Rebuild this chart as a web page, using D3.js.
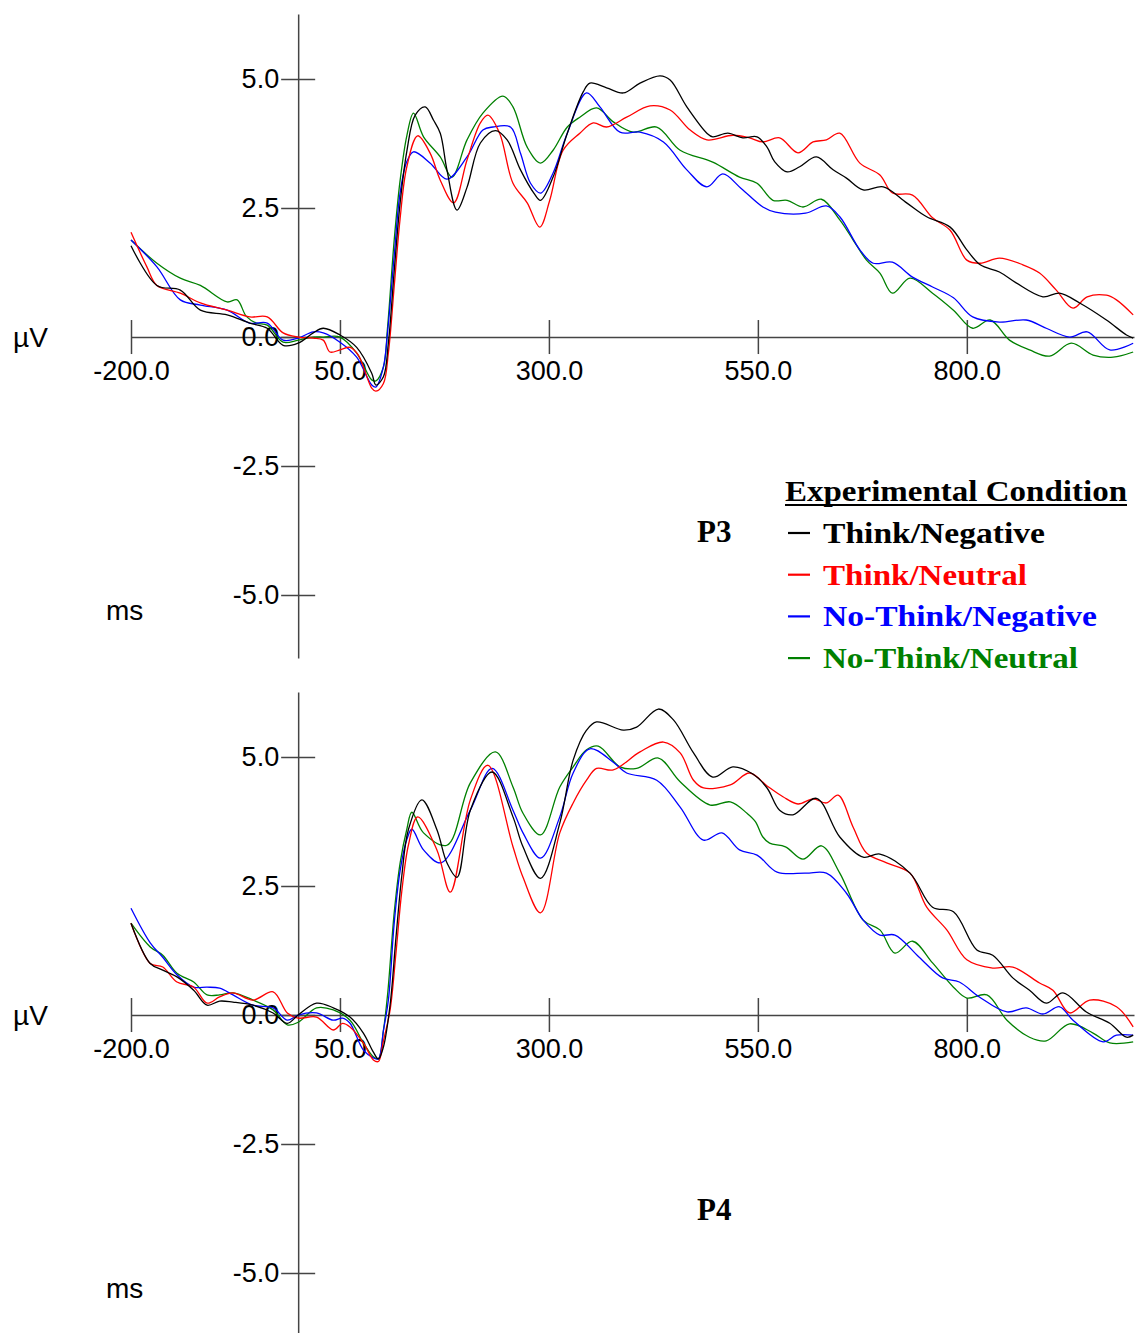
<!DOCTYPE html>
<html>
<head>
<meta charset="utf-8">
<script src="https://cdn.jsdelivr.net/npm/d3@7"></script>
<style>
  body { margin: 0; background: #fff; }
  svg { display: block; }
  .axis path, .axis line { stroke: #444; stroke-width: 1.5; }
  .axis text { font-family: "Liberation Sans", Arial, sans-serif; font-size: 27px; fill: #000; }
  .unit { font-family: "Liberation Sans", Arial, sans-serif; font-size: 28px; fill: #000; }
  .serif { font-family: "Liberation Serif", "Times New Roman", serif; font-weight: bold; }
</style>
</head>
<body>
<div id="chart"></div>
<script>
// ERP waveforms, [ms, µV]
const conditions = ['Think/Negative', 'Think/Neutral', 'No-Think/Negative', 'No-Think/Neutral'];
const colors = ['#000000', '#ff0000', '#0000ff', '#008000'];
const xTicks = [-200, 50, 300, 550, 800];
const yTicks = [-5, -2.5, 0, 2.5, 5];

const p3ThinkNeg = [[-200,1.77],[-169,1.0],[-141,0.91],[-117,0.52],[-85,0.43],[-58,0.27],[-37,0.17],[-18,-0.16],[0,-0.12],[18,0.08],[30,0.17],[50,0.04],[70,-0.2],[88,-0.7],[93,-0.93],[102,-0.77],[108,-0.1],[115,1.3],[122,2.6],[130,3.6],[140,4.3],[152,4.46],[162,4.2],[170,3.95],[178,3.24],[190,2.46],[202,2.9],[218,3.76],[236,4.0],[250,3.82],[266,3.24],[282,2.79],[290,2.65],[305,3.1],[322,3.95],[341,4.75],[349,4.92],[369,4.83],[389,4.73],[409,4.92],[433,5.06],[445,4.98],[465,4.46],[489,3.95],[496,3.88],[514,3.95],[532,3.86],[549,3.88],[561,3.68],[570,3.4],[585,3.2],[600,3.3],[620,3.49],[640,3.24],[656,3.08],[676,2.85],[700,2.91],[728,2.6],[752,2.33],[780,2.13],[800,1.69],[816,1.4],[839,1.26],[859,1.05],[891,0.78],[911,0.85],[935,0.66],[967,0.33],[991,0.04],[999,-0.02]];
const p3ThinkNeu = [[-200,2.03],[-181,1.36],[-169,1.0],[-141,0.85],[-117,0.66],[-85,0.52],[-58,0.39],[-37,0.39],[-18,0.08],[0,0],[18,-0.02],[30,-0.06],[38,-0.29],[50,-0.25],[62,-0.2],[72,-0.35],[88,-0.99],[93,-1.05],[102,-0.9],[108,-0.3],[115,1.0],[122,2.3],[130,3.3],[143,3.9],[158,3.56],[170,3.04],[186,2.6],[202,3.43],[218,4.15],[227,4.3],[241,3.95],[257,2.98],[274,2.6],[289,2.13],[301,2.65],[317,3.62],[337,3.95],[353,4.15],[369,4.07],[393,4.26],[421,4.48],[445,4.4],[469,4.01],[489,3.82],[520,3.91],[540,3.86],[556,3.78],[576,3.86],[598,3.57],[616,3.78],[632,3.82],[648,3.95],[672,3.37],[696,3.14],[711,2.79],[735,2.75],[759,2.31],[780,2.07],[800,1.49],[816,1.43],[839,1.53],[867,1.4],[887,1.24],[907,0.91],[927,0.56],[944,0.78],[967,0.81],[979,0.72],[999,0.43]];
const p3NoThinkNeg = [[-200,1.88],[-169,1.36],[-141,0.72],[-117,0.62],[-85,0.52],[-58,0.27],[-37,0.27],[-18,-0.06],[0,-0.02],[18,0.1],[30,0.08],[50,-0.1],[70,-0.39],[88,-0.93],[93,-0.97],[102,-0.58],[107,0.1],[115,1.6],[122,2.8],[130,3.4],[138,3.59],[158,3.37],[178,3.06],[202,3.49],[221,4.01],[233,4.07],[254,4.07],[266,3.56],[278,2.98],[290,2.79],[305,3.18],[322,3.95],[345,4.73],[361,4.46],[385,3.97],[409,3.97],[437,3.78],[465,3.24],[489,2.91],[508,3.16],[530,2.88],[556,2.52],[571,2.42],[607,2.4],[632,2.54],[648,2.33],[672,1.69],[688,1.43],[711,1.45],[735,1.16],[759,0.97],[784,0.76],[807,0.39],[839,0.29],[871,0.33],[895,0.17],[923,0],[944,0.1],[971,-0.25],[999,-0.12]];
const p3NoThinkNeu = [[-200,1.88],[-169,1.43],[-141,1.14],[-117,1.0],[-85,0.68],[-73,0.72],[-62,0.4],[-50,0.27],[-37,0.23],[-18,-0.1],[0,-0.06],[18,0],[30,0],[50,0],[70,-0.31],[88,-0.83],[93,-0.85],[102,-0.58],[107,0.2],[115,1.9],[122,3.04],[130,3.9],[138,4.34],[150,3.88],[170,3.49],[184,3.1],[202,3.82],[221,4.34],[245,4.67],[257,4.46],[274,3.68],[290,3.37],[305,3.62],[322,4.07],[337,4.26],[357,4.44],[377,4.17],[401,3.97],[429,4.07],[457,3.62],[496,3.39],[528,3.1],[549,2.98],[568,2.65],[585,2.65],[604,2.52],[626,2.67],[648,2.27],[664,1.88],[680,1.49],[696,1.24],[711,0.85],[732,1.14],[759,0.85],[784,0.52],[807,0.17],[828,0.33],[851,-0.06],[875,-0.25],[899,-0.37],[925,-0.12],[951,-0.35],[975,-0.39],[999,-0.29]];

const p4ThinkNeg = [[-200,1.78],[-177,1.0],[-162,0.87],[-145,0.74],[-125,0.48],[-109,0.19],[-94,0.27],[-78,0.25],[-54,0.19],[-30,0.04],[-13,-0.16],[0,0],[22,0.23],[42,0.14],[62,-0.04],[78,-0.35],[90,-0.72],[96,-0.85],[102,-0.62],[110,0.2],[117,1.5],[124,2.7],[132,3.6],[148,4.17],[166,3.59],[178,2.95],[190,2.67],[206,3.97],[232,4.71],[257,3.84],[269,3.26],[290,2.65],[313,3.72],[329,4.94],[345,5.52],[357,5.68],[389,5.52],[405,5.58],[431,5.93],[449,5.72],[473,5.08],[496,4.61],[520,4.81],[544,4.67],[561,4.4],[576,3.97],[592,3.88],[620,4.2],[648,3.45],[676,3.06],[696,3.12],[732,2.75],[759,2.09],[784,2.0],[812,1.26],[831,1.16],[855,0.72],[875,0.48],[895,0.23],[915,0.43],[943,0.06],[971,-0.16],[991,-0.43],[999,-0.39]];
const p4ThinkNeu = [[-200,1.78],[-177,1.0],[-162,0.93],[-145,0.64],[-125,0.54],[-109,0.23],[-94,0.35],[-78,0.43],[-54,0.29],[-30,0.45],[-13,0.04],[0,-0.06],[22,-0.04],[42,-0.29],[53,-0.16],[62,-0.23],[78,-0.54],[90,-0.87],[96,-0.9],[102,-0.5],[110,0.1],[117,1.2],[124,2.4],[132,3.3],[143,3.84],[166,3.2],[182,2.38],[206,4.17],[227,4.84],[257,3.26],[269,2.67],[290,1.98],[313,3.53],[329,4.11],[345,4.55],[357,4.78],[377,4.75],[409,5.1],[437,5.29],[457,5.08],[473,4.55],[485,4.4],[517,4.46],[540,4.69],[561,4.44],[580,4.23],[598,4.09],[616,4.19],[632,4.11],[646,4.26],[664,3.64],[680,3.14],[704,2.95],[732,2.75],[752,2.09],[776,1.65],[800,1.07],[831,0.91],[855,0.93],[887,0.62],[903,0.48],[923,0.04],[947,0.29],[979,0.16],[999,-0.23]];
const p4NoThinkNeg = [[-200,2.07],[-177,1.4],[-162,1.12],[-145,0.78],[-125,0.54],[-109,0.54],[-94,0.52],[-78,0.39],[-54,0.19],[-30,0.14],[-13,-0.1],[0,0],[22,0.04],[42,-0.1],[53,-0.06],[62,-0.16],[78,-0.68],[90,-0.83],[96,-0.85],[102,-0.3],[108,0.3],[115,1.8],[122,2.8],[130,3.4],[136,3.6],[150,3.2],[171,2.95],[206,3.97],[232,4.78],[257,3.97],[269,3.53],[290,3.04],[313,3.84],[329,4.69],[349,5.16],[377,4.9],[393,4.69],[429,4.55],[457,4.03],[485,3.39],[507,3.53],[528,3.2],[549,3.1],[573,2.77],[607,2.75],[632,2.75],[656,2.36],[676,1.84],[696,1.55],[714,1.55],[743,1.12],[771,0.72],[791,0.64],[815,0.35],[848,0.06],[871,0.14],[891,0.02],[911,0.16],[927,-0.1],[963,-0.52],[979,-0.39],[999,-0.39]];
const p4NoThinkNeu = [[-200,1.78],[-177,1.32],[-162,1.16],[-145,0.81],[-125,0.64],[-109,0.39],[-94,0.39],[-78,0.43],[-54,0.29],[-30,0.1],[-13,-0.19],[0,-0.14],[22,0.14],[42,0.1],[62,-0.1],[78,-0.54],[90,-0.81],[96,-0.85],[102,-0.3],[107,0.4],[115,2.0],[122,2.95],[130,3.6],[136,3.93],[150,3.53],[178,3.29],[206,4.5],[236,5.1],[257,4.42],[269,3.91],[290,3.49],[313,4.42],[329,4.81],[345,5.14],[359,5.21],[385,4.81],[405,4.78],[431,4.98],[457,4.52],[493,4.07],[517,4.13],[537,3.91],[547,3.75],[556,3.45],[564,3.33],[583,3.26],[604,3.02],[626,3.28],[648,2.75],[676,1.84],[696,1.65],[714,1.2],[735,1.43],[759,1.01],[784,0.54],[800,0.33],[824,0.39],[848,-0.1],[875,-0.43],[895,-0.5],[923,-0.17],[951,-0.35],[971,-0.54],[999,-0.52]];

const panels = [
  { name: 'P3', offset: 0, series: [p3ThinkNeg, p3ThinkNeu, p3NoThinkNeg, p3NoThinkNeu] },
  { name: 'P4', offset: 678, series: [p4ThinkNeg, p4ThinkNeu, p4NoThinkNeg, p4NoThinkNeu] }
];

const width = 1141;
const height = 1333;

const svg = d3.select('#chart')
  .append('svg')
  .attr('width', width)
  .attr('height', height);

// schaal in ms en µV
const x = d3.scaleLinear().domain([-200, 1000]).range([131, 1134]);
const y = d3.scaleLinear().domain([-6.22, 6.26]).range([658, 14]);

const line = d3.line()
  .x(d => x(d[0]))
  .y(d => y(d[1]))
  .curve(d3.curveCatmullRom.alpha(0.5));

// gewone min-streep, zoals in het origineel
const fmt = d => d.toFixed(1);

panels.forEach(p => {
  const g = svg.append('g').attr('transform', `translate(0,${p.offset})`);

  // x-as op 0 µV, ticks steken aan beide kanten uit
  g.append('g')
    .attr('class', 'axis')
    .attr('transform', `translate(0,${y(0)})`)
    .call(d3.axisBottom(x).tickValues(xTicks).tickSizeOuter(0).tickFormat(fmt))
    .call(a => a.selectAll('.tick line').attr('y1', -17).attr('y2', 17))
    .call(a => a.selectAll('.tick text').attr('y', 24));

  // y-as op 0 ms
  g.append('g')
    .attr('class', 'axis')
    .attr('transform', `translate(${x(0)},0)`)
    .call(d3.axisLeft(y).tickValues(yTicks).tickSizeOuter(0).tickFormat(fmt))
    .call(a => a.selectAll('.tick line').attr('x1', 17).attr('x2', -17))
    .call(a => a.selectAll('.tick text').attr('x', -19));

  g.append('text').attr('class', 'unit').attr('x', 13).attr('y', 347).text('µV');
  g.append('text').attr('class', 'unit').attr('x', 106).attr('y', 620).text('ms');

  g.append('text')
    .attr('class', 'serif')
    .attr('x', 697)
    .attr('y', 542)
    .style('font-size', '31px')
    .text(p.name);

  g.append('g')
    .selectAll('path')
    .data(p.series.map((s, i) => ({ s, i })).reverse())
    .join('path')
    .attr('fill', 'none')
    .attr('stroke', d => colors[d.i])
    .attr('stroke-width', 1.3)
    .attr('d', d => line(d.s));
});

// legenda
const legendWidths = [222, 204, 274, 255];
const legend = svg.append('g').attr('class', 'serif').style('font-size', '29px');

legend.append('text')
  .attr('x', 785)
  .attr('y', 501)
  .attr('textLength', 342)
  .attr('lengthAdjust', 'spacingAndGlyphs')
  .text('Experimental Condition');
legend.append('line')
  .attr('x1', 785).attr('x2', 1127)
  .attr('y1', 505).attr('y2', 505)
  .attr('stroke', '#000').attr('stroke-width', 2);

const items = legend.selectAll('g.item')
  .data(conditions)
  .join('g')
  .attr('class', 'item')
  .attr('transform', (d, i) => `translate(0,${543 + i * 41.7})`);

items.append('line')
  .attr('x1', 788).attr('x2', 810)
  .attr('y1', -10).attr('y2', -10)
  .attr('stroke', (d, i) => colors[i])
  .attr('stroke-width', 2.2);

items.append('text')
  .attr('x', 823)
  .attr('fill', (d, i) => colors[i])
  .attr('textLength', (d, i) => legendWidths[i])
  .attr('lengthAdjust', 'spacingAndGlyphs')
  .text(d => d);
</script>
</body>
</html>
